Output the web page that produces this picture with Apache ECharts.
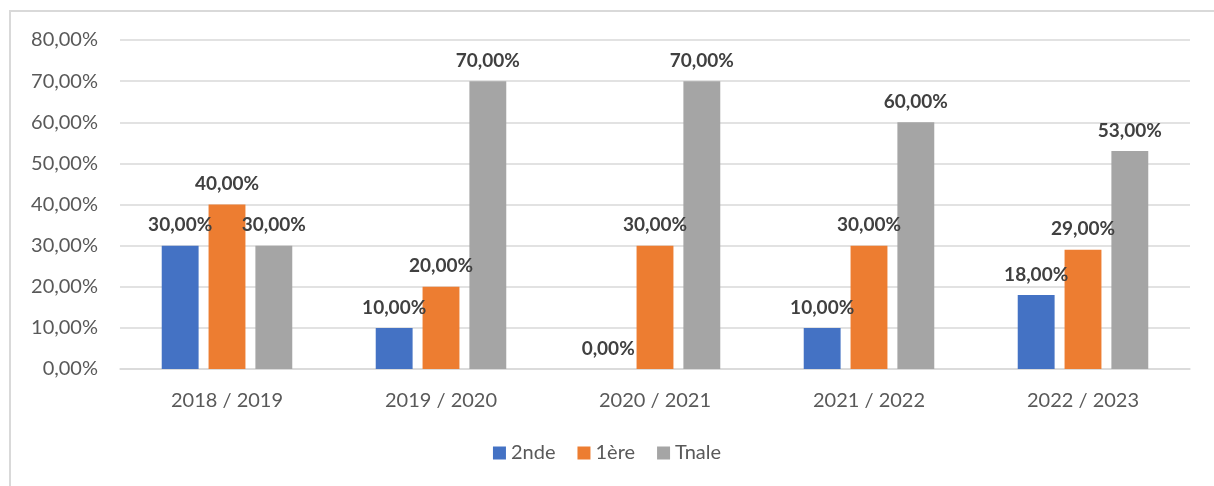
<!DOCTYPE html>
<html><head><meta charset="utf-8">
<script src="https://cdn.jsdelivr.net/npm/echarts@6/dist/echarts.min.js"></script>
<style>
html,body{margin:0;padding:0;background:#fff;overflow:hidden;}
#frame{position:absolute;left:9px;top:10px;width:1300px;height:600px;border:2px solid #d9d9d9;box-sizing:border-box;}
#chart{position:absolute;left:0;top:0;width:1214px;height:486px;}
</style></head>
<body>
<div id="frame"></div>
<div id="chart"></div>
<script>
const categories = ['2018 / 2019', '2019 / 2020', '2020 / 2021', '2021 / 2022', '2022 / 2023'];
const seriesNames = ['2nde', '1ère', 'Tnale'];
const s2nde = [30, 10, 0, 10, 18];
const s1ere = [40, 20, 30, 30, 29];
const sTnale = [30, 70, 70, 60, 53];
const colors = ['#4472C4', '#ED7D31', '#A5A5A5'];

const fmt = v => v.toFixed(2).replace('.', ',') + '%';
const font = 'Lato, Liberation Sans, sans-serif';

const chart = echarts.init(document.getElementById('chart'));
const mk = (name, data, color) => ({
  name, type: 'bar', data, itemStyle: {color},
  barGap: '27%', barCategoryGap: '39%',
  label: {show: true, position: 'top', distance: 11, formatter: p => fmt(p.value),
    fontFamily: font, fontWeight: 'bold', fontSize: 19, color: '#404040'}
});
chart.setOption({
  animation: false,
  grid: {left: 120, right: 24, top: 40, bottom: 117},
  legend: {bottom: 18, left: 'center', itemWidth: 13, itemHeight: 13, itemGap: 22,
    icon: 'rect', textStyle: {fontFamily: font, fontSize: 20, color: '#595959'},
    data: seriesNames},
  xAxis: {type: 'category', data: categories,
    axisLine: {lineStyle: {color: '#d9d9d9', width: 1.5}}, axisTick: {show: false},
    axisLabel: {fontFamily: font, fontSize: 20, color: '#595959', margin: 22}},
  yAxis: {type: 'value', min: 0, max: 80, interval: 10,
    axisLabel: {formatter: v => fmt(v), fontFamily: font, fontSize: 20, color: '#595959', margin: 22},
    splitLine: {lineStyle: {color: '#d9d9d9', width: 1.5}}},
  series: [mk(seriesNames[0], s2nde, colors[0]), mk(seriesNames[1], s1ere, colors[1]), mk(seriesNames[2], sTnale, colors[2])]
});
</script>
</body></html>
